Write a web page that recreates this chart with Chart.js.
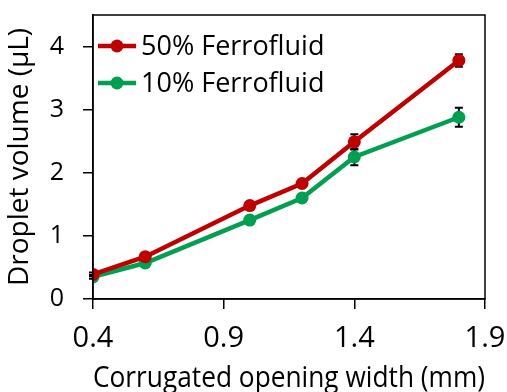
<!DOCTYPE html>
<html lang="en">
<head>
    <meta charset="UTF-8">
    <title>Droplet volume vs opening width</title>
    <style>
        body { margin: 0; background: #fff; }
        .chart-container { width: 507px; height: 392px; }
    </style>
</head>
<body>
    <div class="chart-container">
        <canvas id="volumeChart" width="507" height="392"></canvas>
    </div>

    <script src="https://cdn.jsdelivr.net/npm/chart.js"></script>
    <script>
        // Opening widths (mm)
        const widths = [0.4, 0.6, 1.0, 1.2, 1.4, 1.8];

        // Droplet volumes (µL) and error bars
        const vol50 = [0.39, 0.67, 1.48, 1.83, 2.49, 3.78];
        const err50 = [0.03, 0.04, 0.04, 0.06, 0.12, 0.10];
        const vol10 = [0.35, 0.57, 1.25, 1.60, 2.25, 2.88];
        const err10 = [0.03, 0.03, 0.06, 0.06, 0.13, 0.15];

        const xTicks = [0.4, 0.9, 1.4, 1.9];
        const yTicks = [0, 1, 2, 3, 4];

        const seriesNames = ['50% Ferrofluid', '10% Ferrofluid'];
        const RED = '#C00000';
        const GREEN = '#00A050';
        const FONT = "'Open Sans', sans-serif";

        function points(ys) {
            return widths.map((x, i) => ({ x: x, y: ys[i] }));
        }

        // error bars go under the markers
        const errorBars = {
            id: 'errorBars',
            beforeDatasetsDraw(chart) {
                const ctx = chart.ctx;
                const xs = chart.scales.x, ys = chart.scales.y;
                const sets = [[vol10, err10], [vol50, err50]];
                ctx.save();
                ctx.strokeStyle = '#000';
                ctx.lineWidth = 2;
                sets.forEach(([vals, errs]) => {
                    vals.forEach((v, i) => {
                        const px = xs.getPixelForValue(widths[i]);
                        const top = ys.getPixelForValue(v + errs[i]);
                        const bot = ys.getPixelForValue(v - errs[i]);
                        ctx.beginPath();
                        ctx.moveTo(px, top); ctx.lineTo(px, bot);
                        ctx.moveTo(px - 4, top); ctx.lineTo(px + 4, top);
                        ctx.moveTo(px - 4, bot); ctx.lineTo(px + 4, bot);
                        ctx.stroke();
                    });
                });
                ctx.restore();
            }
        };

        // box around plot area and legend inside it
        const frameLegend = {
            id: 'frameLegend',
            afterDraw(chart) {
                const ctx = chart.ctx;
                const a = chart.chartArea;
                ctx.save();
                ctx.strokeStyle = '#000';
                ctx.lineWidth = 1.5;
                ctx.strokeRect(a.left, a.top, a.right - a.left, a.bottom - a.top);

                const colors = [RED, GREEN];
                ctx.font = '27px ' + FONT;
                ctx.textBaseline = 'middle';
                seriesNames.forEach((name, i) => {
                    const y = a.top + 31 + i * 37;
                    const x0 = a.left + 5;
                    ctx.strokeStyle = colors[i];
                    ctx.lineWidth = 4.5;
                    ctx.beginPath();
                    ctx.moveTo(x0, y); ctx.lineTo(x0 + 38, y);
                    ctx.stroke();
                    ctx.fillStyle = colors[i];
                    ctx.beginPath();
                    ctx.arc(x0 + 19, y, 6.5, 0, Math.PI * 2);
                    ctx.fill();
                    ctx.fillStyle = '#000';
                    ctx.fillText(name, x0 + 43, y + 1);
                });
                ctx.restore();
            }
        };

        const ctx = document.getElementById('volumeChart').getContext('2d');
        new Chart(ctx, {
            type: 'scatter',
            data: {
                datasets: [{
                    label: seriesNames[0],
                    data: points(vol50),
                    showLine: true,
                    borderColor: RED,
                    backgroundColor: RED,
                    borderWidth: 4.5,
                    pointRadius: 6.5,
                    pointBorderWidth: 0
                }, {
                    label: seriesNames[1],
                    data: points(vol10),
                    showLine: true,
                    borderColor: GREEN,
                    backgroundColor: GREEN,
                    borderWidth: 4.5,
                    pointRadius: 6.5,
                    pointBorderWidth: 0
                }]
            },
            options: {
                responsive: false,
                animation: false,
                layout: { padding: { top: 15, right: 22, left: 0, bottom: 0 } },
                plugins: {
                    legend: { display: false },
                    tooltip: { enabled: false }
                },
                scales: {
                    x: {
                        type: 'linear',
                        min: 0.4,
                        max: 1.9,
                        afterBuildTicks: s => { s.ticks = xTicks.map(v => ({ value: v })); },
                        afterFit: s => {
                            s.height = 93;
                            s.paddingLeft = 0;
                            s.paddingRight = 0;
                        },
                        border: { display: true, color: '#000', width: 1.5 },
                        grid: { drawOnChartArea: false, drawTicks: true, tickLength: 10, color: '#000', lineWidth: 1.5 },
                        ticks: {
                            color: '#000',
                            font: { family: FONT, size: 29 },
                            padding: 12,
                            maxRotation: 0,
                            callback: v => v.toFixed(1)
                        },
                        title: {
                            display: true,
                            text: 'Corrugated opening width (mm)',
                            color: '#000',
                            font: { family: FONT, size: 29.5 },
                            padding: { top: 0, bottom: -4 }
                        }
                    },
                    y: {
                        min: 0,
                        max: 4.5,
                        afterBuildTicks: s => { s.ticks = yTicks.map(v => ({ value: v })); },
                        afterFit: s => {
                            s.width = 93;
                            s.paddingTop = 0;
                            s.paddingBottom = 0;
                        },
                        border: { display: true, color: '#000', width: 1.5 },
                        grid: { drawOnChartArea: false, drawTicks: true, tickLength: 10, color: '#000', lineWidth: 1.5 },
                        ticks: {
                            color: '#000',
                            font: { family: FONT, size: 25 },
                            padding: 19
                        },
                        title: {
                            display: true,
                            text: 'Droplet volume (µL)',
                            color: '#000',
                            font: { family: FONT, size: 28 },
                            padding: { top: 3, bottom: 0 }
                        }
                    }
                }
            },
            plugins: [errorBars, frameLegend]
        });
    </script>
</body>
</html>
